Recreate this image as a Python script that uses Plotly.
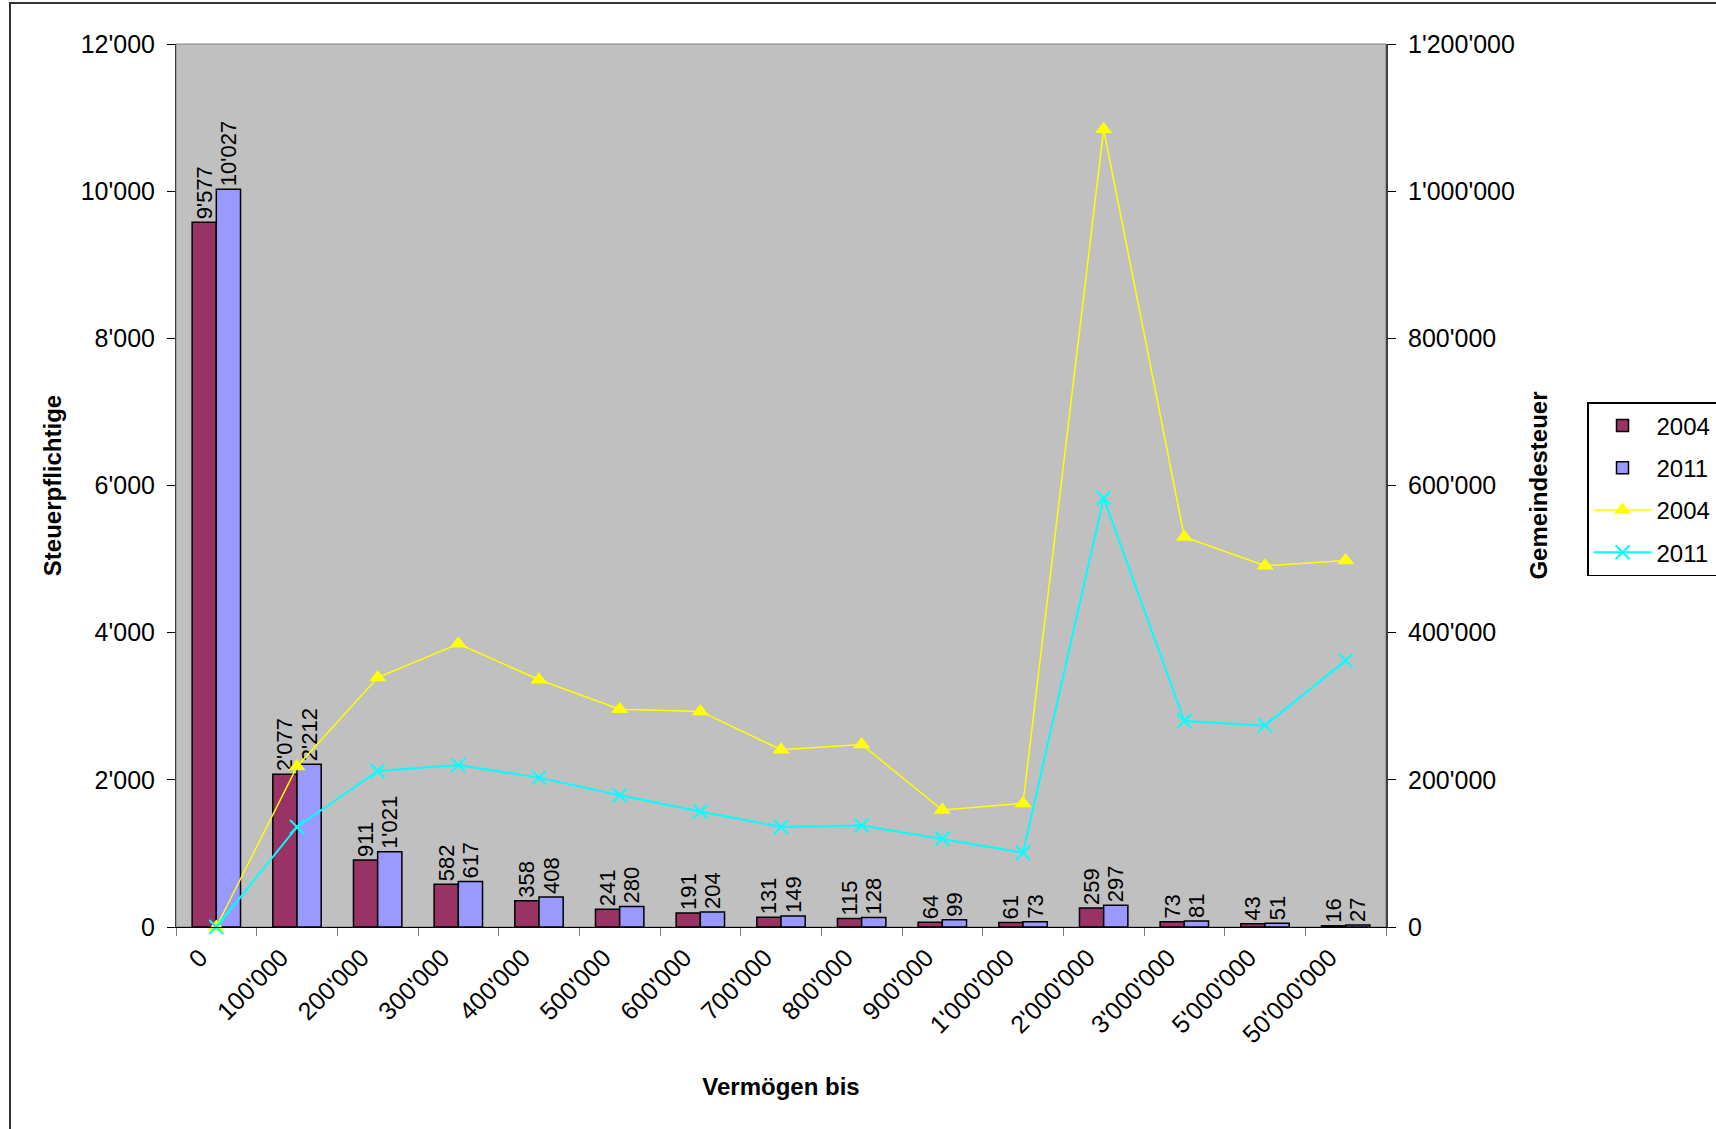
import plotly.graph_objects as go

# Wealth brackets ("Vermögen bis")
categories = ["0", "100'000", "200'000", "300'000", "400'000", "500'000",
              "600'000", "700'000", "800'000", "900'000", "1'000'000",
              "2'000'000", "3'000'000", "5'000'000", "50'000'000"]

# Number of taxpayers per bracket
taxpayers_2004 = [9577, 2077, 911, 582, 358, 241, 191, 131, 115, 64, 61, 259, 73, 43, 16]
taxpayers_2011 = [10027, 2212, 1021, 617, 408, 280, 204, 149, 128, 99, 73, 297, 81, 51, 27]

# Municipal tax per bracket
tax_2004 = [0, 218000, 339000, 385000, 336000, 296000, 293000, 241000, 248000,
            159000, 168000, 1084000, 530000, 491000, 498000]
tax_2011 = [0, 136000, 212000, 220000, 203000, 179000, 157000, 136000, 138000,
            120000, 101000, 583000, 280000, 274000, 362000]

FONT = "Liberation Sans, Arial, sans-serif"
W, H = 1716, 1129
ML, MR, MT, MB = 176, 330, 44, 202
PW, PH = W - ML - MR, H - MT - MB


def px_x(x):
    return (x - ML) / PW


def px_y(y):
    return 1 - (y - MT) / PH


fig = go.Figure()

bar_label_font = dict(family=FONT, size=22, color="black")

fig.add_trace(go.Bar(
    x=categories, y=taxpayers_2004, name="2004",
    marker=dict(color="#993366", line=dict(color="black", width=1.5)),
    texttemplate="%{y:,d}", textposition="outside", textangle=-90,
    textfont=bar_label_font, constraintext="none", cliponaxis=False,
    legendgroup="b04",
))
fig.add_trace(go.Bar(
    x=categories, y=taxpayers_2011, name="2011",
    marker=dict(color="#9999FF", line=dict(color="black", width=1.5)),
    texttemplate="%{y:,d}", textposition="outside", textangle=-90,
    textfont=bar_label_font, constraintext="none", cliponaxis=False,
    legendgroup="b11",
))
fig.add_trace(go.Scatter(
    x=categories, y=tax_2004, name="2004", yaxis="y2",
    mode="lines+markers",
    line=dict(color="#FFFF00", width=1.5),
    marker=dict(symbol="triangle-up", size=15, color="#FFFF00"),
    cliponaxis=False, legendgroup="l04",
))
fig.add_trace(go.Scatter(
    x=categories, y=tax_2011, name="2011", yaxis="y2",
    mode="lines+markers",
    line=dict(color="#00FFFF", width=2),
    marker=dict(symbol="x-thin", size=14, line=dict(color="#00FFFF", width=2)),
    cliponaxis=False, legendgroup="l11",
))

tick_font = dict(family=FONT, size=25, color="black")
title_font = dict(family=FONT, size=24, color="black", weight="bold")

fig.update_layout(
    width=W, height=H,
    margin=dict(l=ML, r=MR, t=MT, b=MB, autoexpand=False),
    paper_bgcolor="white",
    plot_bgcolor="#C0C0C0",
    separators=".'",
    barmode="group",
    bargap=0.4,
    bargroupgap=0,
    font=dict(family=FONT, color="black"),
    xaxis=dict(
        type="category",
        range=[-0.5, len(categories) - 0.5],
        tickson="boundaries",
        ticks="outside", ticklen=8, tickcolor="#808080", tickwidth=1,
        tickangle=-45,
        ticklabelshift=-16, ticklabelstandoff=5,
        tickfont=tick_font,
        showline=True, linecolor="black", linewidth=1,
        showgrid=False, zeroline=False,
        title=dict(text="Vermögen bis", font=title_font, standoff=30),
    ),
    yaxis=dict(
        range=[0, 12000], dtick=2000, tickformat=",d",
        ticks="outside", ticklen=8, tickcolor="black",
        ticklabelstandoff=7,
        tickfont=tick_font,
        showline=True, linecolor="#404040", linewidth=1,
        showgrid=False, zeroline=False,
        title=dict(text="Steuerpflichtige", font=title_font, standoff=12),
    ),
    yaxis2=dict(
        range=[0, 1200000], dtick=200000, tickformat=",d",
        overlaying="y", side="right",
        ticks="outside", ticklen=8, tickcolor="black",
        ticklabelstandoff=7,
        tickfont=tick_font,
        showline=True, linecolor="#404040", linewidth=2,
        showgrid=False, zeroline=False,
        title=dict(text="Gemeindesteuer", font=title_font, standoff=16),
    ),
    legend=dict(
        x=px_x(1587), y=px_y(402), xanchor="left", yanchor="top",
        font=dict(family=FONT, size=24, color="black"),
        bgcolor="white", bordercolor="black", borderwidth=1.5,
        tracegroupgap=8, traceorder="grouped",
        itemwidth=58,
    ),
    shapes=[
        # outer chart frame
        dict(type="rect", xref="paper", yref="paper",
             x0=px_x(10), x1=px_x(1800), y0=px_y(1200), y1=px_y(3),
             line=dict(color="#333333", width=2), fillcolor="rgba(0,0,0,0)",
             layer="below"),
        # plot area border
        dict(type="rect", xref="paper", yref="paper",
             x0=0, x1=1, y0=0, y1=1,
             line=dict(color="#808080", width=1), fillcolor="rgba(0,0,0,0)",
             layer="below"),
    ],
)

fig.write_html("out.html")
